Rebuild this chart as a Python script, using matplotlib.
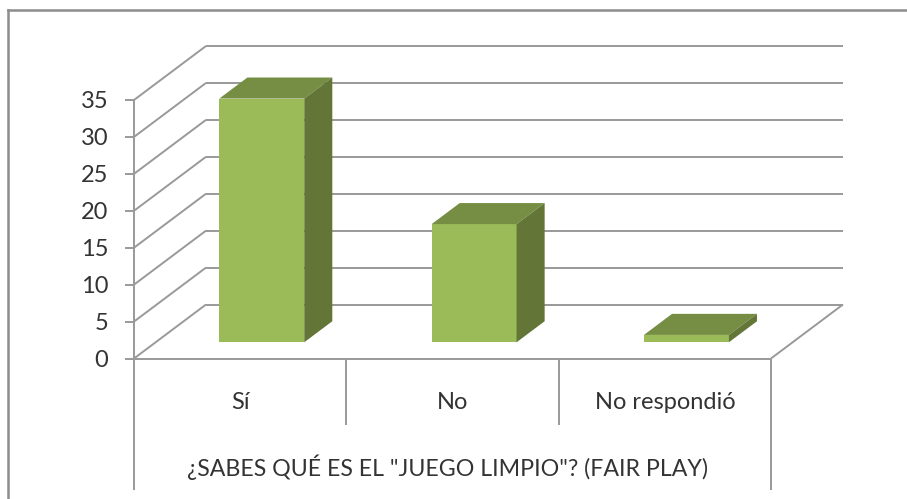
import matplotlib
matplotlib.use('Agg')
import matplotlib.pyplot as plt
from matplotlib.lines import Line2D

# Data
categories = ['Sí', 'No', 'No respondió']
values = [33, 16, 1]
y_ticks = [0, 5, 10, 15, 20, 25, 30, 35]
x_title = '¿SABES QUÉ ES EL "JUEGO LIMPIO"? (FAIR PLAY)'

W, H = 907, 499
GREY = '#999999'
TEXT = '#333333'
LW = 1.4

plt.rcParams['font.family'] = ['Lato', 'DejaVu Sans']

fig = plt.figure(figsize=(W / 100, H / 100), dpi=100, facecolor='white')
# plot area = front plane of the fake 3D box
ax = fig.add_axes([134 / W, 1 - 358.5 / H, (771 - 134) / W, (358.5 - 100) / H])
ax.set_xlim(0, 3)
ax.set_ylim(0, 35)
for s in ax.spines.values():
    s.set_visible(False)

# how far one full unit of depth shifts things, in data units
depth_x = 72 / ((771 - 134) / 3)
depth_y = 54 / ((358.5 - 100) / 35)


def grey_line(xs, ys, z=1):
    ax.plot(xs, ys, color=GREY, lw=LW, clip_on=False, zorder=z, solid_capstyle='butt')


# walls
for t in y_ticks:
    grey_line([0, depth_x], [t, t + depth_y])
    grey_line([depth_x, 3 + depth_x], [t + depth_y, t + depth_y])
grey_line([3, 3 + depth_x], [0, depth_y])
grey_line([0, 3], [0, 0], z=2)

# axis lines and category dividers
grey_line([0, 0], [-17.8, 35], z=2)
grey_line([3, 3], [-17.8, 0], z=2)
for i in [1, 2]:
    grey_line([i, i], [-9, 0], z=2)

# bars
bar_w = 0.4
d0, d1 = 0.30, 0.69
for i, v in enumerate(values):
    left = i + 0.5 - bar_w / 2 + depth_x * d0
    right = left + bar_w
    base = depth_y * d0
    sx = depth_x * (d1 - d0)
    sy = depth_y * (d1 - d0)
    ax.bar(left, v, width=bar_w, bottom=base, align='edge', color='#9BBB59', zorder=3, clip_on=False)
    ax.fill([left, right, right + sx, left + sx],
            [base + v, base + v, base + v + sy, base + v + sy],
            color='#758E43', lw=0, zorder=4, clip_on=False)
    ax.fill([right, right + sx, right + sx, right],
            [base, base + sy, base + v + sy, base + v],
            color='#637637', lw=0, zorder=4, clip_on=False)

ax.set_yticks(y_ticks)
ax.tick_params(axis='y', length=6.5, width=LW, color=GREY, pad=12, labelsize=17, labelcolor=TEXT)
ax.set_xticks([i + 0.5 for i in range(len(categories))])
ax.set_xticklabels(categories)
ax.tick_params(axis='x', length=0, pad=24, labelsize=17, labelcolor=TEXT)
ax.text(1.475, -14.7, x_title, ha='center', va='center', fontsize=16.7, color=TEXT)

# outer chart border, runs off the image at right and bottom
fig.add_artist(Line2D([8 / W, 8 / W], [0, 1 - 10 / H], color='#8C8C8C', lw=1.8))
fig.add_artist(Line2D([8 / W, 1], [1 - 10 / H, 1 - 10 / H], color='#8C8C8C', lw=1.8))

fig.savefig('out.png', dpi=100)
